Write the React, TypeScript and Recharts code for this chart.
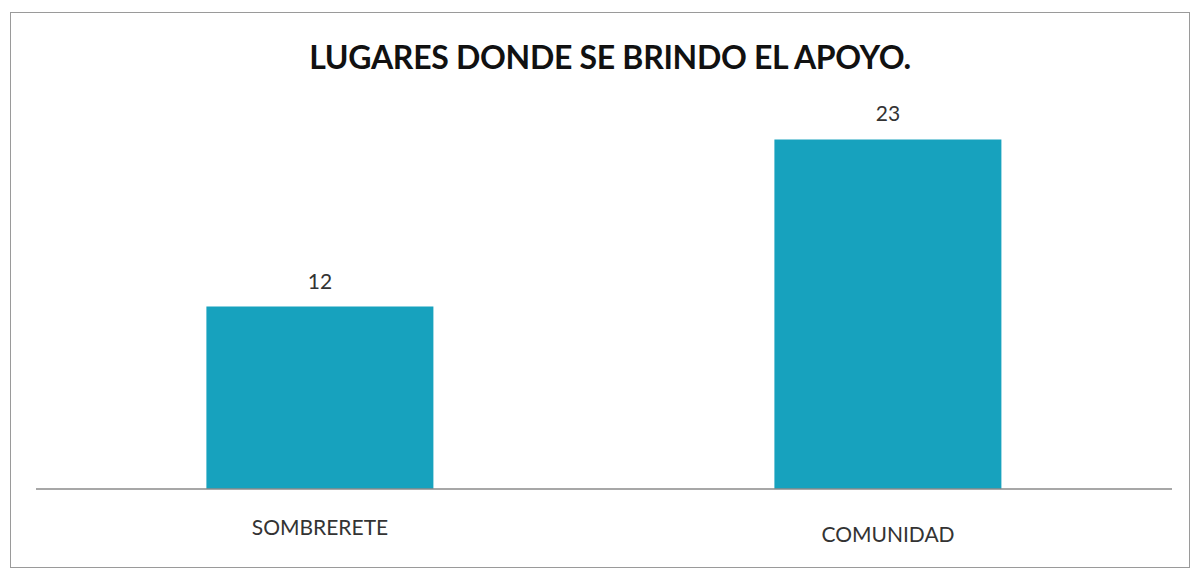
import React from "react";
import { BarChart, Bar, XAxis, YAxis, LabelList } from "recharts";

const categories = ["SOMBRERETE", "COMUNIDAD"];
const values = [12, 23];
const title = "LUGARES DONDE SE BRINDO EL APOYO.";

const data = categories.map((name, i) => ({ name, value: values[i] }));

const FONT = "Lato, 'Open Sans', sans-serif";

const Tick = (props: any) => {
  const { x, payload, index } = props;
  const axisY = 489;
  return (
    <text
      x={x}
      y={axisY + (index === 0 ? 46 : 53)}
      textAnchor="middle"
      fill="#333"
      fontFamily={FONT}
      fontSize={21}
    >
      {payload.value}
    </text>
  );
};

export default function App() {
  return (
    <div style={{ position: "absolute", left: 0, top: 0, width: 1198, height: 575, background: "#fff" }}>
      <div
        style={{
          position: "absolute",
          left: 10,
          top: 12,
          width: 1180,
          height: 556,
          border: "1.5px solid #9a9a9a",
          boxSizing: "border-box",
        }}
      />
      <div
        style={{
          position: "absolute",
          left: 0,
          top: 37,
          width: 1220,
          textAlign: "center",
          fontFamily: FONT,
          fontWeight: 700,
          fontSize: 32,
          color: "#111",
          letterSpacing: -0.3,
        }}
      >
        {title}
      </div>
      <div style={{ position: "absolute", left: 0, top: 0 }}>
        <BarChart
          width={1198}
          height={575}
          data={data}
          margin={{ top: 109, bottom: 26, left: 36, right: 26 }}
          barCategoryGap="30%"
        >
          <XAxis
            dataKey="name"
            axisLine={{ stroke: "#8a8a8a", strokeWidth: 1.5 }}
            tickLine={false}
            tick={<Tick />}
            height={60}
            interval={0}
          />
          <YAxis hide domain={[0, 25]} />
          <Bar dataKey="value" fill="#17a2be" isAnimationActive={false}>
            <LabelList
              dataKey="value"
              position="top"
              offset={18}
              fill="#333"
              fontFamily={FONT}
              fontSize={21}
            />
          </Bar>
        </BarChart>
      </div>
    </div>
  );
}
